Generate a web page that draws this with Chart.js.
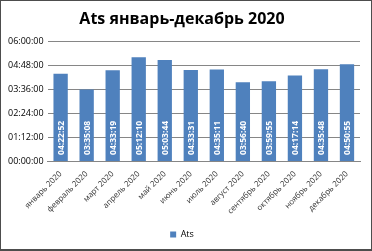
<!DOCTYPE html>
<html><head><meta charset="utf-8">
<script src="https://cdn.jsdelivr.net/npm/chart.js@4"></script>
<style>
html,body{margin:0;padding:0;background:#fff;}
#wrap{position:relative;width:372px;height:251px;box-sizing:border-box;border:1px solid #4d4d4d;border-bottom-width:2px;}
</style></head><body>
<div id="wrap"><canvas id="c"></canvas></div>
<script>
const categories = ['январь 2020','февраль 2020','март 2020','апрель 2020','май 2020','июнь 2020','июль 2020','август 2020','сентябрь 2020','октябрь 2020','ноябрь 2020','декабрь 2020'];
const seriesName = 'Ats';
const valuesSeconds = [15772, 12908, 16399, 18730, 18224, 16411, 16511, 14200, 14395, 15434, 16548, 17455];
const valueLabels = ['04:22:52','03:35:08','04:33:19','05:12:10','05:03:44','04:33:31','04:35:11','03:56:40','03:59:55','04:17:14','04:35:48','04:50:55'];
const yTickMax = 21600;
const yTickStep = 4320;

const FONT = "'Open Sans', 'DejaVu Sans', sans-serif";
function fmt(s){
  const h=Math.floor(s/3600), m=Math.floor((s%3600)/60), sec=Math.round(s%60);
  const p=n=>String(n).padStart(2,'0');
  return p(h)+':'+p(m)+':'+p(sec);
}
const barLabelPlugin = {
  id:'barLabels',
  afterDatasetsDraw(chart){
    const ctx=chart.ctx;
    const meta=chart.getDatasetMeta(0);
    ctx.save();
    ctx.fillStyle='#ffffff';
    ctx.font="bold 8.5px "+FONT;
    ctx.textAlign='left';
    ctx.textBaseline='middle';
    meta.data.forEach((bar,i)=>{
      ctx.save();
      ctx.translate(bar.x, bar.base-6);
      ctx.rotate(-Math.PI/2);
      ctx.fillText(valueLabels[i],0,0.5);
      ctx.restore();
    });
    ctx.restore();
  }
};
new Chart(document.getElementById('c'),{
  type:'bar',
  data:{labels:categories,datasets:[{label:seriesName,data:valuesSeconds,backgroundColor:'#4F81BD',borderWidth:0,categoryPercentage:1,barPercentage:0.55}]},
  options:{
    responsive:true,maintainAspectRatio:false,animation:false,
    layout:{padding:{left:3,right:11,top:5,bottom:0}},
    plugins:{
      title:{display:true,text:'Ats январь-декабрь 2020',color:'#000',font:{family:FONT,size:16,weight:'bold'},padding:{top:4,bottom:12}},
      legend:{position:'bottom',labels:{color:'#000',font:{family:FONT,size:9},boxWidth:6,boxHeight:6,padding:5}},
      tooltip:{enabled:false}
    },
    scales:{
      x:{grid:{display:false},border:{color:'#868686'},afterFit:s=>{s.height+=9;},ticks:{color:'#333',font:{family:FONT,size:8},minRotation:45,maxRotation:45,padding:0}},
      y:{min:0,max:yTickMax,border:{display:false},grid:{color:'#868686',drawTicks:false},
         ticks:{stepSize:yTickStep,color:'#000',font:{family:FONT,size:9},padding:4,callback:v=>fmt(v)}}
    }
  },
  plugins:[barLabelPlugin]
});
</script></body></html>
